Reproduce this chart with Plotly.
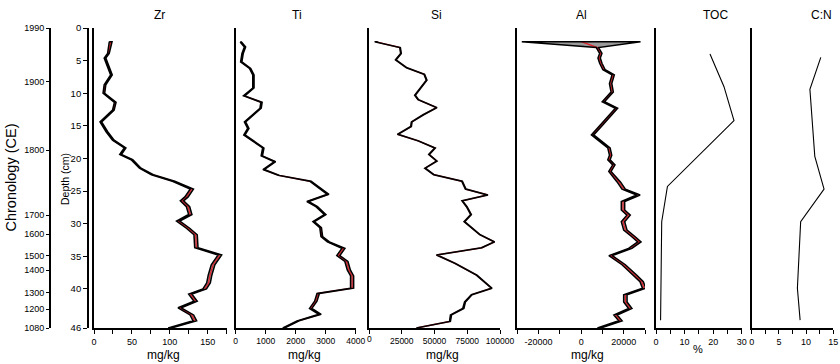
import plotly.graph_objects as go

W, H = 840, 364
TOP, BOT = 28, 328

# ---------------- data ----------------
chron_years = ["1990", "1900", "1800", "1700", "1600", "1500", "1400", "1300", "1200", "1080"]
chron_depths = [0, 8.23, 18.71, 28.68, 31.63, 34.9, 37.15, 40.58, 43.13, 46]
depth_ticks = [0, 5, 10, 15, 20, 25, 30, 35, 40, 46]
si_ticks = [0, 25000, 50000, 75000, 100000]
al_ticks = [-20000, 0, 20000]

zr_depth = [2.1, 3.9, 4.6, 7.2, 8.7, 10.0, 11.4, 12.6, 14.4, 15.9, 17.2, 18.4, 19.4, 20.2, 21.5, 22.5, 23.5,
            24.7, 25.9, 26.5, 27.4, 28.6, 29.6, 30.7, 31.7, 33.7, 34.8, 36.3, 37.9, 39.1, 40.0, 40.8, 41.9,
            42.9, 44.0, 44.9, 46.0]
zr_val = [22, 19, 14.5, 23, 14.5, 13, 28, 25.5, 9, 17, 25.5, 41, 35, 50, 61, 77, 105, 129, 122, 116, 124,
          127, 111, 124, 134, 135, 166, 157, 153, 151, 146, 127, 134, 113, 129, 133, 100]
zr_err = [1.8, 1.1, 1.1, 1.1, 1.1, 1.1, 1.1, 1.1, 1.1, 1.1, 1.1, 1.1, 1.1, 1.1, 1.1, 1.3, 1.6, 2.2, 2.2,
          2.2, 2.2, 2.2, 2.2, 2.2, 2.2, 2.2, 2.4, 2.4, 2.4, 2.4, 2.4, 2.2, 2.2, 2.2, 2.4, 2.4, 2.2]

ti_depth = [2.15, 2.9, 3.9, 5.2, 6.2, 7.2, 9.2, 10.4, 11.4, 12.3, 14.4, 15.4, 16.4, 18.4, 19.6, 20.5, 21.7,
            22.6, 23.5, 25.5, 26.6, 27.4, 28.6, 29.7, 30.6, 32.0, 32.8, 33.8, 34.9, 35.8, 37.1, 38.0, 39.9,
            40.7, 41.9, 43.0, 43.9, 44.9, 46.0]
ti_val = [170, 310, 230, 185, 480, 590, 590, 280, 860, 830, 310, 420, 290, 920, 870, 1310, 930, 1440, 2490,
          3080, 2400, 2700, 2980, 2600, 2830, 2870, 3090, 3590, 3420, 3690, 3770, 3880, 3880, 2750, 2670,
          2500, 2810, 2080, 1600]
ti_err = [22, 22, 22, 22, 22, 22, 22, 22, 22, 22, 22, 22, 22, 22, 22, 22, 22, 22, 25, 28, 28, 28, 28, 28,
          28, 28, 35, 52, 52, 52, 52, 52, 52, 40, 40, 40, 40, 35, 30]

si_depth = [2.1, 3.0, 3.9, 4.9, 6.1, 7.1, 8.0, 10.3, 11.0, 12.2, 13.3, 14.4, 15.1, 16.3, 17.3, 18.4, 19.4,
            20.4, 21.5, 22.5, 23.5, 24.7, 25.6, 26.5, 27.4, 28.6, 29.7, 31.7, 32.8, 33.7, 34.8, 36.1, 37.9,
            39.9, 40.9, 42.0, 43.0, 44.0, 45.0, 46.0]
si_val = [4600, 23700, 24400, 20400, 28800, 42200, 44000, 35100, 37600, 51700, 41500, 32600, 32100, 21900,
          37600, 50400, 45800, 51700, 42800, 49600, 71000, 73800, 90600, 71200, 74600, 77900, 72800, 84700,
          95700, 86000, 51700, 65700, 82200, 93700, 78400, 73300, 72000, 62600, 61800, 36400]
si_err = [250, 250, 250, 250, 250, 250, 250, 250, 250, 250, 250, 250, 250, 250, 250, 250, 250, 250, 250,
          250, 250, 250, 250, 250, 250, 250, 250, 250, 250, 250, 250, 250, 250, 250, 250, 350, 450, 450,
          350, 250]

al_depth = [2.1, 3.0, 3.9, 4.6, 5.4, 6.4, 7.2, 8.5, 9.8, 11.3, 12.3, 13.6, 14.9, 16.4, 17.2, 18.4, 19.5,
            20.2, 21.0, 22.0, 23.6, 24.7, 25.6, 26.6, 27.9, 28.7, 29.7, 31.0, 32.0, 32.8, 33.8, 34.9, 36.3,
            37.9, 38.9, 39.9, 40.9, 42.0, 43.0, 44.0, 44.9, 46.0]
al_val = [0, 7660, 9230, 8450, 9230, 10750, 15040, 13840, 14580, 10430, 16610, 13060, 9510, 5350, 8450,
          13060, 13840, 13060, 15370, 13520, 17670, 19980, 26900, 19660, 19660, 22290, 19660, 20770, 24600,
          27360, 23070, 13840, 19980, 25380, 28430, 29600, 20770, 20770, 23070, 16150, 18460, 8450]
al_err = [27900, 550, 550, 550, 550, 550, 550, 550, 550, 550, 550, 550, 550, 550, 550, 550, 550, 550, 550,
          550, 800, 800, 800, 800, 800, 800, 800, 800, 800, 800, 800, 800, 800, 800, 800, 800, 800, 800,
          800, 800, 800, 800]

toc_depth = [4.0, 9.0, 14.2, 24.3, 29.7, 44.8]
toc_val = [18.9, 23.8, 27.3, 4.0, 2.0, 1.6]

cn_depth = [4.5, 9.4, 19.7, 24.7, 29.7, 39.9, 44.8]
cn_val = [12.7, 10.7, 11.6, 13.3, 9.0, 8.4, 8.9]

# ---------------- style ----------------
FONT = "Liberation Sans, Arial, sans-serif"
RED = "#e3222b"
GRAY = "#9b9b9b"
BLACK = "black"


def px(x):
    return x / W


YDOM = [1 - BOT / H, 1 - TOP / H]

fig = go.Figure()

panels = [
    dict(k=1, dom=(94, 226.7), rng=[0, 175], dtick=50, minor=25, fs=9, title="Zr", tx=159.5, unit="mg/kg", ux=163),
    dict(k=2, dom=(235.7, 355.7), rng=[0, 4000], dtick=1000, minor=None, fs=8.5, title="Ti", tx=296.7, unit="mg/kg", ux=304),
    dict(k=3, dom=(369, 500), rng=[0, 100000], dtick=25000, minor=None, fs=8.5, title="Si", tx=436.7, unit="mg/kg", ux=442),
    dict(k=4, dom=(517.3, 645), rng=[-30000, 30000], dtick=20000, minor=10000, fs=9, title="Al", tx=581.7, unit="mg/kg", ux=587),
    dict(k=5, dom=(656, 741.7), rng=[0, 30], dtick=10, minor=5, fs=9, title="TOC", tx=715, unit="%", ux=698),
    dict(k=6, dom=(751.7, 833.3), rng=[0, 15], dtick=5, minor=2.5, fs=9, title="C:N", tx=821.7, unit=None, ux=None),
]

layout_axes = {}
annotations = []
for p in panels:
    k = p["k"]
    xname = "xaxis" if k == 1 else f"xaxis{k}"
    yk = k + 2
    xa = dict(
        domain=[px(p["dom"][0]), px(p["dom"][1])], range=p["rng"], anchor=f"y{yk}",
        showline=True, linecolor=BLACK, linewidth=1.8, showgrid=False, zeroline=False,
        ticks="outside", ticklen=4, tickwidth=1.3, tickcolor=BLACK, dtick=p["dtick"], tick0=0,
        tickfont=dict(family=FONT, size=p["fs"], color=BLACK), tickformat="d",
        automargin=False, ticklabeloverflow="allow",
    )
    if k == 3:
        # the first label is added as an annotation below (plotly hides it at the panel edge)
        xa.update(tickmode="array", tickvals=si_ticks,
                  ticktext=[""] + [str(t) for t in si_ticks[1:]])
    if k == 4:
        xa.update(tickmode="array", tickvals=al_ticks, ticktext=[str(t) for t in al_ticks])
    if p["minor"]:
        xa["minor"] = dict(dtick=p["minor"], tick0=0, ticks="outside", ticklen=4, tickwidth=1.3, tickcolor=BLACK)
    layout_axes[xname] = xa
    layout_axes[f"yaxis{yk}"] = dict(
        domain=YDOM, range=[46, 0], anchor="x" if k == 1 else f"x{k}",
        showline=True, linecolor=BLACK, linewidth=1.8, showgrid=False, zeroline=False,
        ticks="", showticklabels=False, automargin=False,
    )
    annotations.append(dict(text=p["title"], x=px(p["tx"]), y=1 - 15 / H, xref="paper", yref="paper",
                            showarrow=False, font=dict(family=FONT, size=12, color=BLACK),
                            xanchor="center", yanchor="middle"))
    if p["unit"]:
        uy = 355 if p["unit"] == "mg/kg" else 349
        annotations.append(dict(text=p["unit"], x=px(p["ux"]), y=1 - uy / H, xref="paper", yref="paper",
                                showarrow=False,
                                font=dict(family=FONT, size=12 if p["unit"] == "mg/kg" else 11, color=BLACK),
                                xanchor="center", yanchor="middle"))

# Si "0" tick label placed at the Si axis origin
annotations.append(dict(text=str(si_ticks[0]), x=si_ticks[0], xref="x3", y=1 - 339 / H, yref="paper",
                        showarrow=False, font=dict(family=FONT, size=8.5, color=BLACK),
                        xanchor="center", yanchor="middle"))

layout_axes["yaxis"] = dict(
    domain=YDOM, range=[46, 0], anchor="free", position=px(88), side="left",
    showline=True, linecolor=BLACK, linewidth=1.8, showgrid=False, zeroline=False,
    ticks="outside", ticklen=4, tickwidth=1.3, tickcolor=BLACK,
    tickmode="array", tickvals=depth_ticks, ticktext=[str(t) for t in depth_ticks],
    tickfont=dict(family=FONT, size=9.5, color=BLACK), automargin=False,
)
layout_axes["yaxis2"] = dict(
    range=[46, 0], anchor="free", position=px(50), side="left", overlaying="y",
    showline=True, linecolor=BLACK, linewidth=1.8, showgrid=False, zeroline=False,
    ticks="outside", ticklen=3, tickwidth=1.3, tickcolor=BLACK,
    tickmode="array", tickvals=chron_depths, ticktext=chron_years,
    tickfont=dict(family=FONT, size=9, color=BLACK), automargin=False,
)

annotations.append(dict(text="Chronology (CE)", x=px(10.5), y=1 - 178 / H, xref="paper", yref="paper",
                        showarrow=False, textangle=-90, font=dict(family=FONT, size=14.5, color=BLACK),
                        xanchor="center", yanchor="middle"))
annotations.append(dict(text="Depth (cm)", x=px(65), y=1 - 179 / H, xref="paper", yref="paper",
                        showarrow=False, textangle=-90, font=dict(family=FONT, size=10.5, color=BLACK),
                        xanchor="center", yanchor="middle"))

fig.add_trace(go.Scatter(x=[None], y=[None], xaxis="x", yaxis="y", showlegend=False, hoverinfo="skip"))
fig.add_trace(go.Scatter(x=[None], y=[None], xaxis="x", yaxis="y2", showlegend=False, hoverinfo="skip"))


def add_band(k, depth, val, err):
    xa = "x" if k == 1 else f"x{k}"
    ya = f"y{k + 2}"
    lower = [v - e for v, e in zip(val, err)]
    upper = [v + e for v, e in zip(val, err)]
    bx = lower + upper[::-1] + [lower[0]]
    by = depth + depth[::-1] + [depth[0]]
    fig.add_trace(go.Scatter(x=bx, y=by, xaxis=xa, yaxis=ya, fill="toself", fillcolor=GRAY, mode="none",
                             showlegend=False, hoverinfo="skip"))
    fig.add_trace(go.Scatter(x=val, y=depth, xaxis=xa, yaxis=ya, mode="lines",
                             line=dict(color=RED, width=1.3), showlegend=False))
    fig.add_trace(go.Scatter(x=bx, y=by, xaxis=xa, yaxis=ya, mode="lines",
                             line=dict(color=BLACK, width=1.5), showlegend=False, hoverinfo="skip"))


add_band(1, zr_depth, zr_val, zr_err)
add_band(2, ti_depth, ti_val, ti_err)
add_band(3, si_depth, si_val, si_err)
add_band(4, al_depth, al_val, al_err)

fig.add_trace(go.Scatter(x=toc_val, y=toc_depth, xaxis="x5", yaxis="y7", mode="lines",
                         line=dict(color=BLACK, width=1.1), showlegend=False))
fig.add_trace(go.Scatter(x=cn_val, y=cn_depth, xaxis="x6", yaxis="y8", mode="lines",
                         line=dict(color=BLACK, width=1.1), showlegend=False))

fig.update_layout(
    width=W, height=H, margin=dict(l=0, r=0, t=0, b=0, autoexpand=False),
    paper_bgcolor="white", plot_bgcolor="white",
    showlegend=False, annotations=annotations,
    font=dict(family=FONT, color=BLACK),
    **layout_axes,
)

fig.write_html(
    "out.html",
    config={"displayModeBar": False},
    post_script="document.body.style.margin='0';document.body.style.overflow='hidden';",
)
